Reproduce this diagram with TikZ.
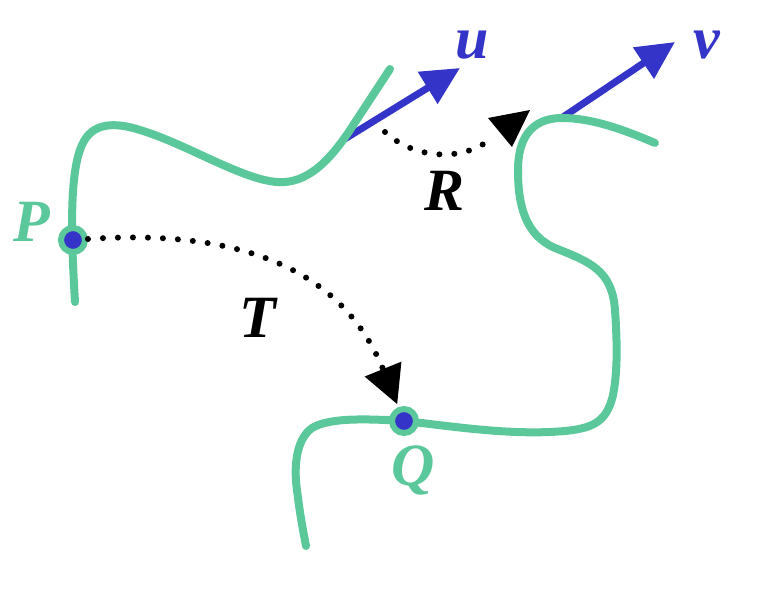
\documentclass[tikz,border=0pt]{standalone}
\usepackage{fontspec}
\setmainfont{Liberation Serif}
\usetikzlibrary{arrows.meta}
\definecolor{curvegreen}{RGB}{90,200,155}
\definecolor{vecblue}{RGB}{52,52,200}
\begin{document}
\begin{tikzpicture}[x=1pt,y=-1pt,
  curve/.style={draw=curvegreen, line width=8pt, line cap=round, line join=round},
  vecarrow/.style={draw=vecblue, line width=7pt, -{Triangle[length=38pt,width=36pt]}},
  dotarrow/.style={draw=black, line width=6pt, line cap=round, dash pattern=on 0pt off 15pt, -{Triangle[length=38pt,width=38pt]}},
  dotline/.style={draw=black, line width=6pt, line cap=round, dash pattern=on 0pt off 15pt},
  pt/.style={circle, fill=vecblue, draw=curvegreen, line width=6pt, minimum size=24pt, inner sep=0pt},
  lbl/.style={font=\fontsize{60}{60}\selectfont\bfseries\itshape, inner sep=0pt}
]
\path (0,0) rectangle (760,590);

% vectors (behind curves)
\coordinate (us) at (343,140);
\coordinate (ut) at (460,68);
\coordinate (vs) at (560,119);
\coordinate (vt) at (675,42);
\draw[vecarrow] (us) -- (ut);
\draw[vecarrow] (vs) -- (vt);

% curves
\draw[curve] (75,302) .. controls (72,250) and (68,175) .. (82,145)
  .. controls (92,122) and (115,122) .. (140,130)
  .. controls (190,145) and (250,185) .. (285,182)
  .. controls (310,180) and (330,160) .. (350,130) -- (390,69);
\draw[curve] (655,143) .. controls (620,128) and (590,118) .. (562,118)
  .. controls (530,118) and (518,140) .. (518,170)
  .. controls (518,205) and (525,235) .. (555,248)
  .. controls (590,262) and (612,270) .. (615,310)
  .. controls (617,340) and (618,370) .. (613,395)
  .. controls (606,425) and (590,430) .. (550,432)
  .. controls (500,434) and (450,426) .. (404,421)
  .. controls (370,419) and (330,417) .. (312,428)
  .. controls (295,440) and (294,470) .. (297,490)
  .. controls (300,515) and (303,530) .. (306,546);

% points
\node[pt] (P) at (73,240) {};
\node[pt] (Q) at (404,421) {};

% T arrow
\draw[dotarrow, shorten >=3pt] (P) .. controls (250,228) and (345,275) .. (Q);

% R arrow
\coordinate (Rs) at (385,132);
\coordinate (Re) at (493,137);
\draw[dotline] (Rs) .. controls (415,160) and (465,162) .. (Re);
\coordinate (Rh1) at (488,118);
\coordinate (Rh2) at (530,110);
\coordinate (Rh3) at (512,147);
\fill[black] (Rh1) -- (Rh2) -- (Rh3) -- cycle;

% labels
\node[lbl, text=curvegreen] (lP) at (32,222) {P};
\node[lbl, text=curvegreen] (lQ) at (413,470) {Q};
\node[lbl] (lT) at (258,318) {T};
\node[lbl] (lR) at (445,191) {R};
\node[lbl, text=vecblue] (lu) at (472,45) {u};
\node[lbl, text=vecblue] (lv) at (707,45) {v};
\end{tikzpicture}
\end{document}
